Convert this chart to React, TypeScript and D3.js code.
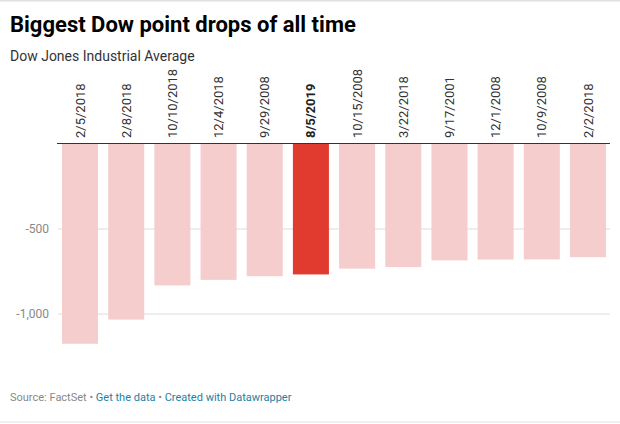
import React from 'react';
import * as d3 from 'd3';

const dates = ["2/5/2018", "2/8/2018", "10/10/2018", "12/4/2018", "9/29/2008", "8/5/2019", "10/15/2008", "3/22/2018", "9/17/2001", "12/1/2008", "10/9/2008", "2/2/2018"];
const drops = [-1175.21, -1032.89, -831.83, -799.36, -777.68, -767.27, -733.08, -724.42, -684.81, -679.95, -678.91, -665.75];
const highlight = "8/5/2019";
const yTickValues = [-500, -1000];

const App: React.FC = () => {
  const width = 620;
  const height = 424;
  const plotLeft = 58;
  const plotRight = 610;

  const xScale = d3.scaleBand<string>().domain(dates).range([plotLeft, plotRight]).paddingInner(0.22).paddingOuter(0.087);
  const yScale = d3.scaleLinear().domain([0, -1000]).range([144, 314]);
  // datawrapper uses a plain hyphen, not the unicode minus
  const fmt = (v: number) => d3.format(",")(v).replace("\u2212", "-");
  const font = "Roboto, 'Noto Sans', sans-serif";

  return (
    <svg width={width} height={height} style={{position: "absolute", left: 0, top: 0, background: "#fff", fontFamily: font}}>
      <line x1={0} x2={width} y1={0.5} y2={0.5} stroke="#e0e0e0" strokeWidth={2}/>
      <text x={10} y={32} fontSize={22} fontWeight={700} fill="#000">Biggest Dow point drops of all time</text>
      <text x={10} y={61} fontSize={14} fill="#333">Dow Jones Industrial Average</text>

      {yTickValues.map(v => (
        <g key={v}>
          <line x1={plotLeft} x2={plotRight} y1={yScale(v)} y2={yScale(v)} stroke="#dcdcdc"/>
          <text x={49} y={yScale(v)} dy="0.35em" textAnchor="end" fontSize={12} fill="#888">{fmt(v)}</text>
        </g>
      ))}

      {dates.map((d, i) => {
        const isHl = d === highlight;
        const x = xScale(d) as number;
        return (
          <g key={d}>
            <rect x={x} y={yScale(0)} width={xScale.bandwidth()} height={yScale(drops[i]) - yScale(0)} fill={isHl ? "#e13b2f" : "#f5cdcd"}/>
            <text transform={`translate(${x + xScale.bandwidth() / 2}, 138) rotate(-90)`} dy="0.35em" fontSize={13} fontWeight={isHl ? 700 : 400} fill={isHl ? "#222" : "#333"}>{d}</text>
          </g>
        );
      })}
      <line x1={plotLeft - 1} x2={plotRight} y1={yScale(0) - 0.5} y2={yScale(0) - 0.5} stroke="#333"/>

      <text x={10} y={401} fontSize={11} fill="#888">
        Source: FactSet • <tspan fill="#1d81a2">Get the data</tspan> • <tspan fill="#1d81a2">Created with Datawrapper</tspan>
      </text>
      <line x1={0} x2={width} y1={422} y2={422} stroke="#e0e0e0" strokeWidth={1}/>
    </svg>
  );
};

export default App;
